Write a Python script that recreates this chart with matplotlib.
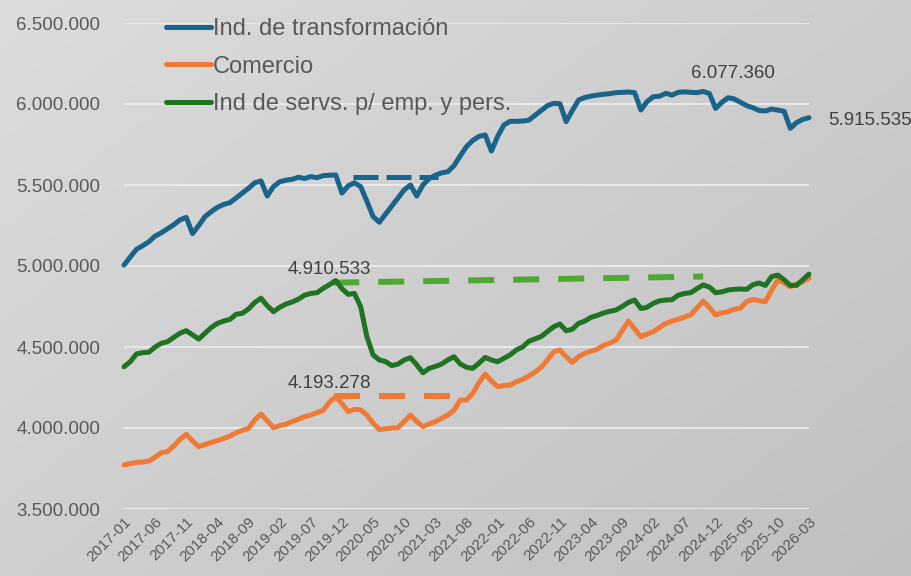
import numpy as np
import matplotlib
matplotlib.use("Agg")
import matplotlib.pyplot as plt
from matplotlib.ticker import FuncFormatter

# monthly series, 2017-01 .. 2026-03 (thousands of workers)
transformacion = [
    5006, 5055, 5103, 5125, 5150, 5185, 5205, 5230, 5255, 5285, 5300, 5200,
    5250, 5305, 5335, 5362, 5380, 5391, 5420, 5450, 5480, 5514, 5525, 5432,
    5490, 5520, 5530, 5535, 5548, 5540, 5552, 5545, 5558, 5560, 5562, 5450,
    5495, 5514, 5490, 5400, 5305, 5270, 5320, 5370, 5420, 5470, 5500, 5432,
    5500, 5540, 5560, 5575, 5582, 5620, 5680, 5737, 5775, 5800, 5809, 5710,
    5800, 5870, 5893, 5893, 5895, 5900, 5930, 5960, 5990, 6004, 6002, 5891,
    5960, 6025, 6040, 6049, 6055, 6060, 6064, 6070, 6072, 6074, 6070, 5963,
    6015, 6045, 6048, 6066, 6055, 6072, 6075, 6072, 6070, 6077.360, 6065, 5973,
    6010, 6039, 6031, 6010, 5990, 5977, 5960, 5957, 5969, 5962, 5955, 5850,
    5885, 5905, 5915.535,
]
comercio = [
    3772, 3780, 3788, 3790, 3796, 3820, 3848, 3854, 3890, 3930, 3961, 3920,
    3885, 3898, 3910, 3922, 3935, 3950, 3971, 3985, 3998, 4050, 4086, 4045,
    4002, 4015, 4023, 4040, 4054, 4070, 4080, 4095, 4110, 4160, 4193.278, 4150,
    4101, 4115, 4112, 4080, 4030, 3990, 3995, 4000, 4002, 4040, 4080, 4040,
    4009, 4025, 4039, 4060, 4080, 4110, 4173, 4173, 4214, 4280, 4333, 4290,
    4255, 4262, 4265, 4285, 4300, 4320, 4345, 4375, 4420, 4470, 4482, 4440,
    4405, 4440, 4461, 4475, 4486, 4510, 4523, 4543, 4600, 4660, 4612, 4564,
    4580, 4594, 4620, 4646, 4660, 4671, 4685, 4698, 4740, 4784, 4745, 4698,
    4710, 4718, 4733, 4740, 4780, 4794, 4785, 4780, 4850, 4914, 4895, 4872,
    4890, 4903, 4925,
]
servicios = [
    4378, 4409, 4457, 4465, 4468, 4500, 4523, 4533, 4560, 4585, 4601, 4575,
    4549, 4585, 4620, 4646, 4660, 4670, 4702, 4708, 4735, 4775, 4801, 4755,
    4718, 4745, 4765, 4778, 4795, 4820, 4831, 4835, 4862, 4885, 4910.533, 4860,
    4825, 4831, 4749, 4564, 4451, 4420, 4410, 4385, 4395, 4420, 4434, 4390,
    4341, 4368, 4380, 4395, 4420, 4440, 4395, 4375, 4368, 4400, 4436, 4420,
    4409, 4430, 4451, 4482, 4500, 4535, 4550, 4565, 4595, 4625, 4642, 4600,
    4610, 4646, 4660, 4683, 4695, 4710, 4720, 4728, 4750, 4775, 4790, 4738,
    4745, 4770, 4785, 4790, 4792, 4820, 4830, 4835, 4860, 4883, 4870, 4835,
    4840, 4852, 4856, 4858, 4856, 4885, 4895, 4880, 4935, 4944, 4915, 4880,
    4880, 4915, 4950,
]

# reference (pre-pandemic) levels: start month, end month, start value, end value
ref_trans = [36.7, 50.5, 5548, 5548]
ref_serv = [33.6, 93.0, 4897, 4935]
ref_com = [33.8, 52.5, 4198, 4198]

series_names = ["Ind. de transformación", "Comercio", "Ind de servs. p/ emp. y pers."]
colors = ["#1b6489", "#ee7a35", "#1f7424"]

plt.rcParams["font.family"] = ["Liberation Sans", "DejaVu Sans"]
plt.rcParams["lines.scale_dashes"] = False

months = []
for y in range(2017, 2027):
    for m in range(1, 13):
        months.append(f"{y}-{m:02d}")
months = months[:len(transformacion)]
x = np.arange(len(months))

fig = plt.figure(figsize=(9.11, 5.76), dpi=100)

# gradient background
bg = fig.add_axes([0, 0, 1, 1], zorder=-1)
gx, gy = np.meshgrid(np.linspace(0, 1, 300), np.linspace(0, 1, 200))
grad = 0.55 * gx + 0.45 * gy
bg.imshow(grad, cmap=matplotlib.colors.LinearSegmentedColormap.from_list(
    "g", ["#dcdcdc", "#c0c0c0"]), aspect="auto", extent=[0, 1, 1, 0])
bg.axis("off")

ax = fig.add_axes([124 / 911, 1 - 509 / 576, (809 - 124) / 911, (509 - 23) / 576])
ax.set_facecolor("none")

data = [transformacion, comercio, servicios]
for vals, name, c in zip(data, series_names, colors):
    ax.plot(x, np.array(vals) * 1000, color=c, lw=3.6, label=name,
            solid_joinstyle="round", solid_capstyle="round", clip_on=False, zorder=3)

ax.plot(ref_trans[:2], np.array(ref_trans[2:]) * 1000, color="#1b6489", lw=3.6,
        dashes=(18, 5.8), zorder=2)
ax.plot(ref_serv[:2], np.array(ref_serv[2:]) * 1000, color="#4fa832", lw=4.3,
        dashes=(18.7, 13.7), zorder=2)
ax.plot(ref_com[:2], np.array(ref_com[2:]) * 1000, color="#ee7a35", lw=4.3,
        dashes=(18.7, 13.7), zorder=2)

ax.set_xlim(0, len(months) - 1)
ax.set_ylim(3500000, 6500000)
ax.set_yticks(np.arange(3500000, 6500001, 500000))
ax.yaxis.set_major_formatter(FuncFormatter(lambda v, p: f"{v:,.0f}".replace(",", ".")))
ax.set_xticks(x[::5])
ax.set_xticklabels(months[::5], rotation=45, ha="right", rotation_mode="anchor")
ax.tick_params(axis="y", length=0, pad=17, labelsize=13.5, labelcolor="#595959")
ax.tick_params(axis="x", length=0, pad=4, labelsize=11, labelcolor="#595959")
ax.grid(axis="y", color="#e8e8e8", lw=1.5)
ax.set_axisbelow(True)
for s in ax.spines.values():
    s.set_visible(False)

# value labels
ann = dict(fontsize=13.5, color="#404040", textcoords="offset pixels", annotation_clip=False)
ax.annotate("4.910.533", (34, 4910533), xytext=(-6, 2), ha="center", va="bottom", **ann)
ax.annotate("4.193.278", (34, 4193278), xytext=(-6, 5), ha="center", va="bottom", **ann)
ax.annotate("6.077.360", (93, 6077360), xytext=(30, 9), ha="center", va="bottom", **ann)
ax.annotate("5.915.535", (110, 5915535), xytext=(19, -3), ha="left", va="center", **ann)

leg = ax.legend(loc="upper left", bbox_to_anchor=(166 / 911, 1 - 18 / 576),
                bbox_transform=fig.transFigure, frameon=False, fontsize=17,
                handlelength=1.9, handletextpad=0.1, labelspacing=0.66,
                borderpad=0, borderaxespad=0)
for t in leg.get_texts():
    t.set_color("#595959")
for h in leg.get_lines():
    h.set_linewidth(3.6)

fig.savefig("out.png", dpi=100)
